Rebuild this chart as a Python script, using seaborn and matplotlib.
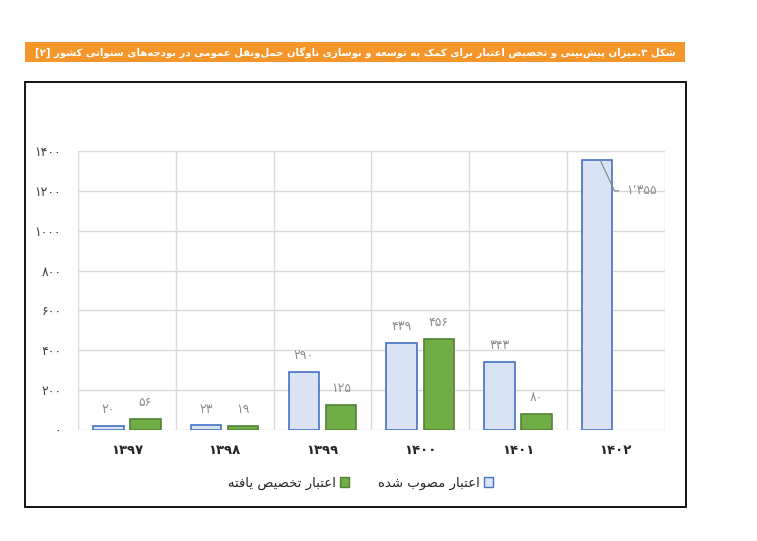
import numpy as np
import pandas as pd
import matplotlib
matplotlib.use("Agg")
import matplotlib.pyplot as plt
from matplotlib.patches import Patch, Rectangle
import seaborn as sns

# Data
years = ["۱۳۹۷", "۱۳۹۸", "۱۳۹۹", "۱۴۰۰", "۱۴۰۱", "۱۴۰۲"]
approved = [20, 23, 290, 439, 343, 1355]
allocated = [56, 19, 125, 456, 80, np.nan]
approved_name = "اعتبار مصوب شده"
allocated_name = "اعتبار تخصیص یافته"
title = "شکل ۳.میزان پیش‌بینی و تخصیص اعتبار برای کمک به توسعه و نوسازی ناوگان حمل‌ونقل عمومی در بودجه‌های سنواتی کشور [۲]"
yticks = [0, 200, 400, 600, 800, 1000, 1200, 1400]

# matplotlib has no Arabic shaping, so do a small contextual shaping + RTL reorder by hand
FORMS = {
    "ا": ("\uFE8D", "\uFE8E", None, None),
    "ب": ("\uFE8F", "\uFE90", "\uFE91", "\uFE92"),
    "پ": ("\uFB56", "\uFB57", "\uFB58", "\uFB59"),
    "ت": ("\uFE95", "\uFE96", "\uFE97", "\uFE98"),
    "ج": ("\uFE9D", "\uFE9E", "\uFE9F", "\uFEA0"),
    "ح": ("\uFEA1", "\uFEA2", "\uFEA3", "\uFEA4"),
    "خ": ("\uFEA5", "\uFEA6", "\uFEA7", "\uFEA8"),
    "د": ("\uFEA9", "\uFEAA", None, None),
    "ر": ("\uFEAD", "\uFEAE", None, None),
    "ز": ("\uFEAF", "\uFEB0", None, None),
    "س": ("\uFEB1", "\uFEB2", "\uFEB3", "\uFEB4"),
    "ش": ("\uFEB5", "\uFEB6", "\uFEB7", "\uFEB8"),
    "ص": ("\uFEB9", "\uFEBA", "\uFEBB", "\uFEBC"),
    "ع": ("\uFEC9", "\uFECA", "\uFECB", "\uFECC"),
    "ف": ("\uFED1", "\uFED2", "\uFED3", "\uFED4"),
    "ق": ("\uFED5", "\uFED6", "\uFED7", "\uFED8"),
    "ک": ("\uFB8E", "\uFB8F", "\uFB90", "\uFB91"),
    "گ": ("\uFB92", "\uFB93", "\uFB94", "\uFB95"),
    "ل": ("\uFEDD", "\uFEDE", "\uFEDF", "\uFEE0"),
    "م": ("\uFEE1", "\uFEE2", "\uFEE3", "\uFEE4"),
    "ن": ("\uFEE5", "\uFEE6", "\uFEE7", "\uFEE8"),
    "ه": ("\uFEE9", "\uFEEA", "\uFEEB", "\uFEEC"),
    "و": ("\uFEED", "\uFEEE", None, None),
    "ی": ("\uFBFC", "\uFBFD", "\uFBFE", "\uFBFF"),
}
MIRROR = {"[": "]", "]": "[", "(": ")", ")": "("}


def fa(text):
    out = []
    for i, c in enumerate(text):
        if c == "\u200c":
            continue
        if c not in FORMS:
            out.append(c)
            continue
        prev = text[i - 1] if i > 0 else ""
        nxt = text[i + 1] if i + 1 < len(text) else ""
        link_prev = prev in FORMS and FORMS[prev][2] is not None
        link_next = FORMS[c][2] is not None and nxt in FORMS
        iso, fin, ini, med = FORMS[c]
        if link_prev and link_next:
            out.append(med)
        elif link_prev:
            out.append(fin)
        elif link_next:
            out.append(ini)
        else:
            out.append(iso)
    # reverse for RTL but keep digit runs left-to-right
    runs, cur = [], ""
    for c in out:
        if c.isdigit():
            cur += c
        else:
            if cur:
                runs.append(cur)
                cur = ""
            runs.append(MIRROR.get(c, c))
    if cur:
        runs.append(cur)
    return "".join(reversed(runs))


def fa_num(v, sep=False):
    s = f"{int(v):,}".replace(",", "\u066C") if sep else str(int(v))
    return s.translate(str.maketrans("0123456789", "۰۱۲۳۴۵۶۷۸۹"))


df = pd.DataFrame({
    "year": years * 2,
    "value": approved + allocated,
    "kind": [approved_name] * len(years) + [allocated_name] * len(years),
})

sns.set_style("white")
plt.rcParams["font.family"] = ["DejaVu Sans"]

blue_fill, blue_edge = "#DAE3F3", "#4472C4"
green_fill, green_edge = "#70AD47", "#548235"
grid_c = "#D9D9D9"
label_c = "#8C8C8C"

fig = plt.figure(figsize=(7.57, 5.41), dpi=100)
ax = fig.add_axes([0.103, 0.2052, 0.775, 0.5157])

sns.barplot(data=df, x="year", y="value", hue="kind",
            hue_order=[approved_name, allocated_name],
            palette=[blue_fill, green_fill], saturation=1,
            width=0.76, gap=0.18, legend=False, ax=ax, linewidth=1.2)
for cont, ec in zip(ax.containers, [blue_edge, green_edge]):
    for p in cont:
        p.set_edgecolor(ec)

# value labels
appr_labels = [fa_num(v) for v in approved[:-1]] + [""]
ax.bar_label(ax.containers[0], labels=appr_labels, padding=7, color=label_c, fontsize=9)
alloc_vals = [v for v in allocated if not np.isnan(v)]
ax.bar_label(ax.containers[1], labels=[fa_num(v) for v in alloc_vals],
             padding=7, color=label_c, fontsize=9)

# leader label for the 1402 bar
last = ax.containers[0][-1]
xc = last.get_x() + last.get_width() / 2
ax.annotate(fa_num(approved[-1], sep=True), xy=(xc + 0.03, approved[-1]),
            xytext=(last.get_x() + last.get_width() + 0.14, 1200),
            ha="left", va="center", color=label_c, fontsize=9,
            arrowprops=dict(arrowstyle="-", color=label_c, lw=0.9,
                            connectionstyle="angle,angleA=0,angleB=-65,rad=0",
                            shrinkA=3, shrinkB=0))

ax.set_ylim(0, 1400)
ax.set_xlim(-0.5, len(years) - 0.5)
ax.set_yticks(yticks)
ax.set_yticklabels([fa_num(v) for v in yticks], fontsize=9, color="#404040")
ax.set_xticks(range(len(years)))
ax.set_xticklabels(years, fontsize=9.5, fontweight="bold", color="#262626")
ax.set_xticks(np.arange(-0.5, len(years)), minor=True)
ax.grid(axis="y", which="major", color=grid_c, lw=1)
ax.grid(axis="x", which="minor", color=grid_c, lw=1)
ax.grid(axis="x", which="major", visible=False)
ax.tick_params(axis="both", which="both", length=0)
ax.tick_params(axis="y", pad=12)
ax.tick_params(axis="x", pad=10)
ax.set_axisbelow(True)
for s in ax.spines.values():
    s.set_visible(False)
ax.set_xlabel("")
ax.set_ylabel("")

# legend (RTL: markers on the right of text)
handles = [Patch(facecolor=green_fill, edgecolor=green_edge),
           Patch(facecolor=blue_fill, edgecolor=blue_edge)]
fig.legend(handles, [fa(allocated_name), fa(approved_name)], loc="center",
           bbox_to_anchor=(0.476, 0.107), ncol=2, frameon=False,
           markerfirst=False, handlelength=0.7, handleheight=0.7,
           handletextpad=0.3, columnspacing=2.2, fontsize=9.5)

# outer frame and orange title banner
fig.add_artist(Rectangle((0.033, 0.0628), 0.873, 0.7856, transform=fig.transFigure,
                         fill=False, edgecolor="black", lw=1.3))
fig.add_artist(Rectangle((0.033, 0.885), 0.872, 0.037, transform=fig.transFigure,
                         facecolor="#F5962A", edgecolor="none"))
fig.text(0.469, 0.9035, fa(title), color="white", fontsize=7.3, fontweight="bold",
         ha="center", va="center")

fig.savefig("out.png", dpi=100, facecolor="white")
